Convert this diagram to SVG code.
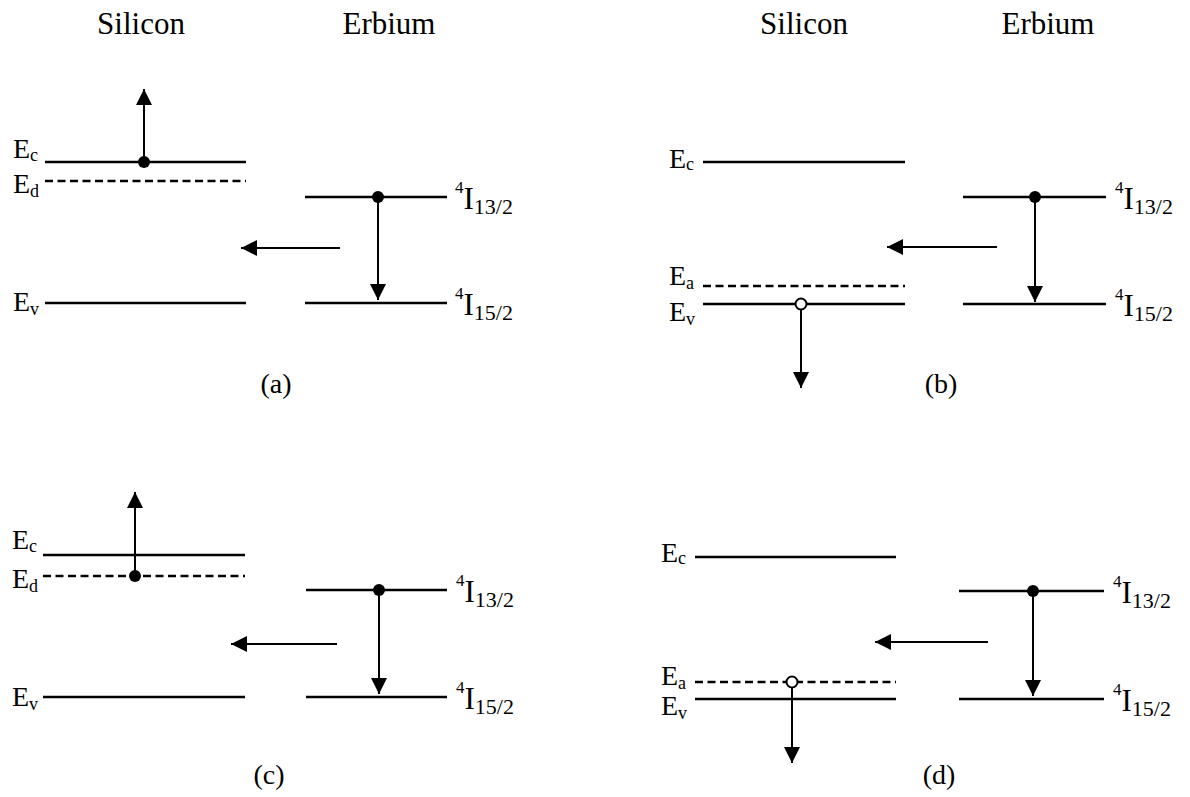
<svg xmlns="http://www.w3.org/2000/svg" width="1190" height="797" viewBox="0 0 1190 797">
  <defs>
    <!-- solid triangular arrowhead, fixed size in user units -->
    <marker id="ah" markerUnits="userSpaceOnUse" markerWidth="17" markerHeight="17" refX="16" refY="8" orient="auto">
      <path d="M0,0 L16,8 L0,16 z" fill="#000"/>
    </marker>
  </defs>
  <style>
    text { font-family: "Liberation Serif", "Times New Roman", serif; fill: #000; }
    .title { font-size: 31px; text-anchor: middle; }
    .cap { font-size: 28px; text-anchor: middle; }
    .e { font-size: 28px; }
    .es { font-size: 18px; }
    .sup { font-size: 17px; }
    .ii { font-size: 31px; }
    .is { font-size: 22px; }
    .lvl { stroke: #000; stroke-width: 2.5; fill: none; }
    .dash { stroke-dasharray: 8 4.5; }
    .arr { stroke: #000; stroke-width: 2; fill: none; marker-end: url(#ah); }
    .dot { fill: #000; }
    .hole { fill: #fff; stroke: #000; stroke-width: 2; }
  </style>
  <rect width="1190" height="797" fill="#fff"/>

  <!-- column headings -->
  <g id="headings">
    <text class="title" x="141" y="34">Silicon</text>
    <text class="title" x="389" y="34">Erbium</text>
    <text class="title" x="804" y="34">Silicon</text>
    <text class="title" x="1048" y="34">Erbium</text>
  </g>

  <!-- ===== panel (a): donor level, electron excited to conduction band ===== -->
  <g id="panel-a">
    <g id="a-Ec">
      <line class="lvl" x1="45" y1="162" x2="246" y2="162"/>
      <text class="e" x="13" y="158">E<tspan class="es" dy="3">c</tspan></text>
    </g>
    <g id="a-Ed">
      <line class="lvl dash" x1="45" y1="181" x2="246" y2="181"/>
      <text class="e" x="13" y="193">E<tspan class="es" dy="4">d</tspan></text>
    </g>
    <g id="a-Ev">
      <line class="lvl" x1="45" y1="303" x2="246" y2="303"/>
      <text class="e" x="13" y="311">E<tspan class="es" dy="4">v</tspan></text>
    </g>
    <g id="a-I13">
      <line class="lvl" x1="305" y1="197" x2="447" y2="197"/>
      <text x="455" y="209"><tspan class="sup" dy="-16">4</tspan><tspan class="ii" dy="16">I</tspan><tspan class="is" dy="5">13/2</tspan></text>
    </g>
    <g id="a-I15">
      <line class="lvl" x1="305" y1="303" x2="447" y2="303"/>
      <text x="455" y="315"><tspan class="sup" dy="-16">4</tspan><tspan class="ii" dy="16">I</tspan><tspan class="is" dy="5">15/2</tspan></text>
    </g>
    <g id="a-carriers">
      <circle class="dot" cx="144" cy="162" r="6"/>
      <circle class="dot" cx="378" cy="197" r="6"/>
    </g>
    <g id="a-arrows">
      <line class="arr" x1="144" y1="162" x2="144" y2="89"/>
      <line class="arr" x1="378" y1="197" x2="378" y2="300"/>
      <line class="arr" x1="340" y1="248" x2="241" y2="248"/>
    </g>
    <text class="cap" x="276" y="393">(a)</text>
  </g>

  <!-- ===== panel (b): acceptor level, hole pushed into valence band ===== -->
  <g id="panel-b">
    <g id="b-Ec">
      <line class="lvl" x1="703" y1="162" x2="905" y2="162"/>
      <text class="e" x="669" y="168">E<tspan class="es" dy="2">c</tspan></text>
    </g>
    <g id="b-Ea">
      <line class="lvl dash" x1="703" y1="286" x2="905" y2="286"/>
      <text class="e" x="669" y="285">E<tspan class="es" dy="4">a</tspan></text>
    </g>
    <g id="b-Ev">
      <line class="lvl" x1="703" y1="304" x2="905" y2="304"/>
      <text class="e" x="669" y="321">E<tspan class="es" dy="4">v</tspan></text>
    </g>
    <g id="b-I13">
      <line class="lvl" x1="963" y1="197" x2="1106" y2="197"/>
      <text x="1115" y="209"><tspan class="sup" dy="-16">4</tspan><tspan class="ii" dy="16">I</tspan><tspan class="is" dy="5">13/2</tspan></text>
    </g>
    <g id="b-I15">
      <line class="lvl" x1="963" y1="304" x2="1106" y2="304"/>
      <text x="1115" y="316"><tspan class="sup" dy="-16">4</tspan><tspan class="ii" dy="16">I</tspan><tspan class="is" dy="5">15/2</tspan></text>
    </g>
    <g id="b-arrows">
      <line class="arr" x1="801" y1="310" x2="801" y2="388"/>
      <line class="arr" x1="1035" y1="197" x2="1035" y2="302"/>
      <line class="arr" x1="997" y1="247" x2="887" y2="247"/>
    </g>
    <g id="b-carriers">
      <circle class="hole" cx="801" cy="304" r="5.5"/>
      <circle class="dot" cx="1035" cy="197" r="6"/>
    </g>
    <text class="cap" x="941" y="393">(b)</text>
  </g>

  <!-- ===== panel (c): electron from donor level to conduction band ===== -->
  <g id="panel-c">
    <g id="c-Ec">
      <line class="lvl" x1="43" y1="555" x2="245" y2="555"/>
      <text class="e" x="12" y="549">E<tspan class="es" dy="3">c</tspan></text>
    </g>
    <g id="c-Ed">
      <line class="lvl dash" x1="43" y1="576" x2="245" y2="576"/>
      <text class="e" x="12" y="588">E<tspan class="es" dy="4">d</tspan></text>
    </g>
    <g id="c-Ev">
      <line class="lvl" x1="43" y1="697" x2="245" y2="697"/>
      <text class="e" x="12" y="706">E<tspan class="es" dy="4">v</tspan></text>
    </g>
    <g id="c-I13">
      <line class="lvl" x1="306" y1="590" x2="447" y2="590"/>
      <text x="456" y="602"><tspan class="sup" dy="-16">4</tspan><tspan class="ii" dy="16">I</tspan><tspan class="is" dy="5">13/2</tspan></text>
    </g>
    <g id="c-I15">
      <line class="lvl" x1="306" y1="697" x2="447" y2="697"/>
      <text x="456" y="709"><tspan class="sup" dy="-16">4</tspan><tspan class="ii" dy="16">I</tspan><tspan class="is" dy="5">15/2</tspan></text>
    </g>
    <g id="c-carriers">
      <circle class="dot" cx="135" cy="576" r="6"/>
      <circle class="dot" cx="379" cy="590" r="6"/>
    </g>
    <g id="c-arrows">
      <line class="arr" x1="135" y1="576" x2="135" y2="492"/>
      <line class="arr" x1="379" y1="590" x2="379" y2="694"/>
      <line class="arr" x1="337" y1="644" x2="231" y2="644"/>
    </g>
    <text class="cap" x="269" y="784">(c)</text>
  </g>

  <!-- ===== panel (d): hole from acceptor level into valence band ===== -->
  <g id="panel-d">
    <g id="d-Ec">
      <line class="lvl" x1="695" y1="557" x2="896" y2="557"/>
      <text class="e" x="661" y="562">E<tspan class="es" dy="2">c</tspan></text>
    </g>
    <g id="d-Ea">
      <line class="lvl dash" x1="695" y1="682" x2="896" y2="682"/>
      <text class="e" x="661" y="685">E<tspan class="es" dy="4">a</tspan></text>
    </g>
    <g id="d-Ev">
      <line class="lvl" x1="695" y1="699" x2="896" y2="699"/>
      <text class="e" x="661" y="715">E<tspan class="es" dy="4">v</tspan></text>
    </g>
    <g id="d-I13">
      <line class="lvl" x1="959" y1="591" x2="1104" y2="591"/>
      <text x="1113" y="603"><tspan class="sup" dy="-16">4</tspan><tspan class="ii" dy="16">I</tspan><tspan class="is" dy="5">13/2</tspan></text>
    </g>
    <g id="d-I15">
      <line class="lvl" x1="959" y1="699" x2="1104" y2="699"/>
      <text x="1113" y="711"><tspan class="sup" dy="-16">4</tspan><tspan class="ii" dy="16">I</tspan><tspan class="is" dy="5">15/2</tspan></text>
    </g>
    <g id="d-arrows">
      <line class="arr" x1="792" y1="688" x2="792" y2="763"/>
      <line class="arr" x1="1033" y1="591" x2="1033" y2="696"/>
      <line class="arr" x1="988" y1="642" x2="875" y2="642"/>
    </g>
    <g id="d-carriers">
      <circle class="hole" cx="792" cy="682" r="5.5"/>
      <circle class="dot" cx="1033" cy="591" r="6"/>
    </g>
    <text class="cap" x="939" y="784">(d)</text>
  </g>
</svg>
